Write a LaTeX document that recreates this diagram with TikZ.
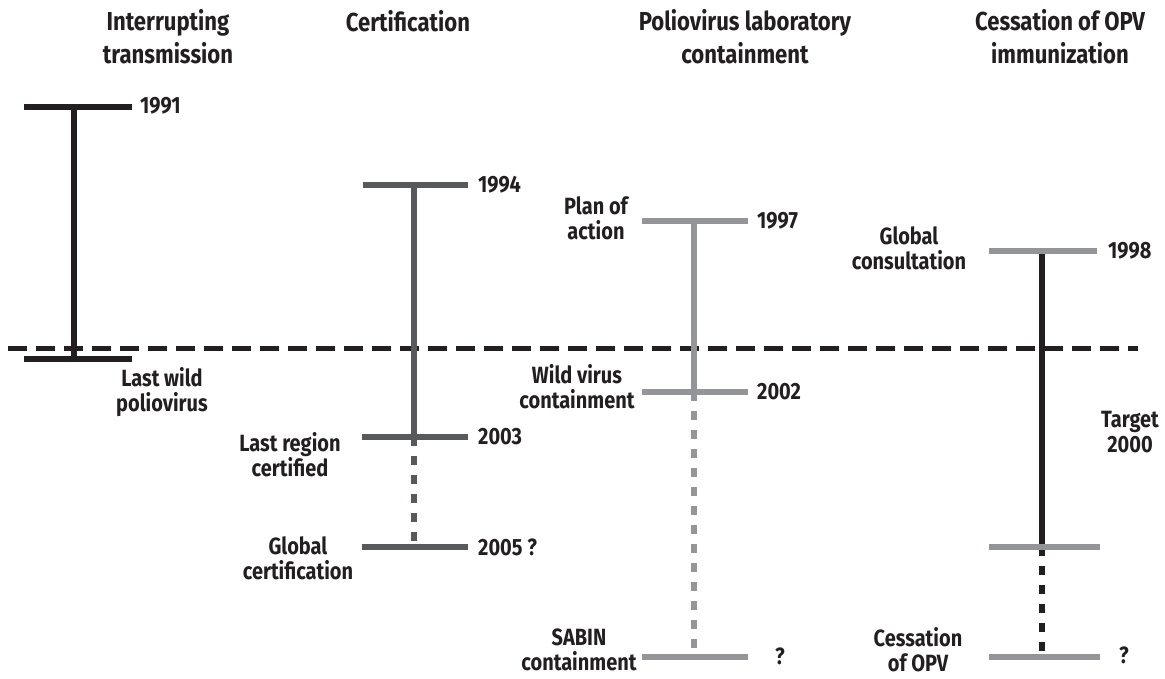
\documentclass[tikz,border=0pt]{standalone}
\usepackage{fontspec}
\setmainfont{Fira Sans}[FakeStretch=0.85]
\definecolor{cblack}{RGB}{35,31,32}
\definecolor{cdark}{RGB}{88,89,91}
\definecolor{clight}{RGB}{147,149,152}
\begin{document}
\begin{tikzpicture}[x=1pt,y=-1pt,
  bar/.style={line width=5.5pt},
  stem/.style={line width=6pt},
  vdash/.style={line width=6pt, dash pattern=on 9pt off 10pt},
  hdash/.style={line width=5pt, dash pattern=on 19pt off 9pt, cblack},
  lab/.style={font=\bfseries\fontsize{23.5}{25}\selectfont, inner sep=0pt, align=center, text=cblack},
  ttl/.style={font=\bfseries\fontsize{26}{33}\selectfont, inner sep=0pt, align=center, text=cblack},
  yr/.style={lab, anchor=west}]
\useasboundingbox (0,0) rectangle (1165,679);

% titles
\node[ttl] (t1) at (168,37) {Interrupting\\transmission};
\node[ttl] (t2) at (408,21) {Certification};
\node[ttl] (t3) at (745,37) {Poliovirus laboratory\\containment};
\node[ttl] (t4) at (1060,37) {Cessation of OPV\\immunization};

% target line
\coordinate (hl) at (8,348);
\coordinate (hr) at (1138,348);
\draw[hdash] (hl) -- (hr);

% column 1
\coordinate (a1l) at (24,107); \coordinate (a1r) at (132,107); \coordinate (a1m) at (74,107);
\coordinate (a2l) at (24,359); \coordinate (a2r) at (132,359); \coordinate (a2m) at (74,357);
\draw[bar,cblack] (a1l) -- (a1r);
\draw[bar,cblack] (a2l) -- (a2r);
\draw[stem,cblack] (a1m) -- (a2m);
\node[yr] (y1991) at (140,106) {1991};
\node[lab] (lw) at (162,392) {Last wild\\poliovirus};

% column 2
\coordinate (b1l) at (363,185); \coordinate (b1r) at (468,185); \coordinate (b1m) at (414,185);
\coordinate (b2l) at (362,437); \coordinate (b2r) at (468,437); \coordinate (b2m) at (414,437);
\coordinate (b3l) at (362,547); \coordinate (b3r) at (468,547); \coordinate (b3m) at (414,547);
\draw[stem,cdark] (b1m) -- (b2m);
\draw[vdash,cdark] (b2m) -- (b3m);
\draw[bar,cdark] (b1l) -- (b1r);
\draw[bar,cdark] (b2l) -- (b2r);
\draw[bar,cdark] (b3l) -- (b3r);
\node[yr] (y1994) at (478,185) {1994};
\node[yr] (y2003) at (478,437) {2003};
\node[yr] (y2005) at (478,547) {2005 ?};
\node[lab] (lr) at (290,455) {Last region\\certified};
\node[lab] (gc) at (298,558) {Global\\certification};

% column 3
\coordinate (c1l) at (642,221); \coordinate (c1r) at (748,221); \coordinate (c1m) at (694,221);
\coordinate (c2l) at (642,392); \coordinate (c2r) at (748,392); \coordinate (c2m) at (694,392);
\coordinate (c3l) at (642,657); \coordinate (c3r) at (748,657); \coordinate (c3m) at (694,657);
\draw[stem,clight] (c1m) -- (c2m);
\draw[vdash,clight] (c2m) -- (c3m);
\draw[bar,clight] (c1l) -- (c1r);
\draw[bar,clight] (c2l) -- (c2r);
\draw[bar,clight] (c3l) -- (c3r);
\node[yr] (y1997) at (757,221) {1997};
\node[yr] (y2002) at (757,392) {2002};
\node[yr] (q3) at (775,656) {?};
\node[lab] (pa) at (596,218) {Plan of\\action};
\node[lab] (wv) at (577,387) {Wild virus\\containment};
\node[lab] (sc) at (579,650) {SABIN\\containment};

% column 4
\coordinate (d1l) at (989,251); \coordinate (d1r) at (1097,251); \coordinate (d1m) at (1042,251);
\coordinate (d2l) at (989,547); \coordinate (d2r) at (1100,547); \coordinate (d2m) at (1042,547);
\coordinate (d3l) at (989,657); \coordinate (d3r) at (1100,657); \coordinate (d3m) at (1042,657);
\draw[stem,cblack] (d1m) -- (d2m);
\draw[vdash,cblack] (d2m) -- (d3m);
\draw[bar,clight] (d1l) -- (d1r);
\draw[bar,clight] (d2l) -- (d2r);
\draw[bar,clight] (d3l) -- (d3r);
\node[yr] (y1998) at (1108,251) {1998};
\node[yr] (q4) at (1119,655) {?};
\node[lab] (gl) at (909,248) {Global\\consultation};
\node[lab] (co) at (918,650) {Cessation\\of OPV};
\node[lab] (tg) at (1130,432) {Target\\2000};
\end{tikzpicture}
\end{document}
